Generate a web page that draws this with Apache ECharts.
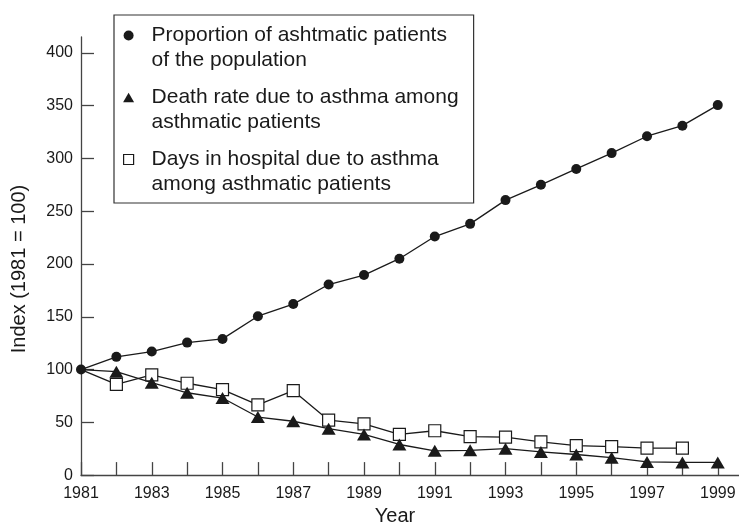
<!DOCTYPE html>
<html>
<head>
<meta charset="utf-8">
<script src="https://cdn.jsdelivr.net/npm/echarts@6/dist/echarts.min.js"></script>
<style>
html,body{margin:0;padding:0;background:#fff;}
#chart{width:739px;height:531px;}
</style>
</head>
<body>
<div id="chart"></div>
<script>
const years = [1981,1982,1983,1984,1985,1986,1987,1988,1989,1990,1991,1992,1993,1994,1995,1996,1997,1998,1999];
const proportionPatients = [100,112,117,125.5,129,150.5,162,180.5,189.5,205,226,238,260.5,275,290,305,321,331,350.5];
const deathRate = [100,98,87.5,78,73,55,51,44,38.5,29,23,23.5,25,22,19.5,16.5,12.5,12,12];
const hospitalYears = [1981,1982,1983,1984,1985,1986,1987,1988,1989,1990,1991,1992,1993,1994,1995,1996,1997,1998];
const hospitalDays = [100,86,95,87,81,66.5,80,52,48.5,38.5,42,36.5,36,31.5,28,27,25.5,25.5];
const xTickValues = [1981,1982,1983,1984,1985,1986,1987,1988,1989,1990,1991,1992,1993,1994,1995,1996,1997,1998,1999];
const xLabelValues = [1981,1983,1985,1987,1989,1991,1993,1995,1997,1999];
const yTickValues = [0,50,100,150,200,250,300,350,400];

const nameProp = 'Proportion of ashtmatic patients\nof the population';
const nameDeath = 'Death rate due to asthma among\nasthmatic patients';
const nameDays = 'Days in hospital due to asthma\namong asthmatic patients';

const INK = '#1a1a1a';
const AXIS = '#444';
const FONT = '"Liberation Sans", Arial, sans-serif';

// the shared 1981 base point is only marked by the circle
function pairs(xs, ys, hideFirst){
  return xs.map((x,i)=> (hideFirst && i === 0) ? {value:[x, ys[i]], symbol:'none'} : [x, ys[i]]);
}

// legend icons: shape drawn in top-left part of a taller box so it lines up with the first text line
const anchor = 'M0,0 M24,36 ';
const iconCircle = 'path://' + anchor + 'M11,5.5 A5,5,0,1,1,1,5.5 A5,5,0,1,1,11,5.5 Z';
const iconTri = 'path://' + anchor + 'M6,0.8 L11.5,10.2 L0.5,10.2 Z';
const iconSq = 'path://' + anchor + 'M1,0.5 L11,0.5 L11,10.5 L1,10.5 Z';

const chart = echarts.init(document.getElementById('chart'), null, {renderer:'canvas'});
chart.setOption({
  animation: false,
  backgroundColor: '#fff',
  textStyle: {fontFamily: FONT},
  grid: {left: 81, right: 0, top: 37, bottom: 50, containLabel: false},
  legend: {
    orient: 'vertical',
    left: 114, top: 15,
    padding: [8, 15, 6, 8],
    itemWidth: 24, itemHeight: 36,
    itemGap: 12,
    borderColor: '#333', borderWidth: 1.2,
    backgroundColor: '#fff',
    selectedMode: false,
    textStyle: {fontFamily: FONT, fontSize: 21, lineHeight: 25, color: INK},
    data: [
      {name: nameProp, icon: iconCircle, itemStyle: {color: INK, borderWidth: 0}},
      {name: nameDeath, icon: iconTri, itemStyle: {color: INK, borderWidth: 0}},
      {name: nameDays, icon: iconSq, itemStyle: {color: '#fff', borderColor: INK, borderWidth: 1.2}}
    ]
  },
  xAxis: {
    type: 'value',
    min: 1981, max: 1999.6,
    name: 'Year',
    nameLocation: 'middle',
    nameGap: 30,
    nameTextStyle: {fontFamily: FONT, fontSize: 20, color: INK, padding: [0, 30, 0, 0]},
    axisLine: {show: true, lineStyle: {color: AXIS, width: 1.3}},
    axisTick: {show: true, inside: true, length: 13, lineStyle: {color: AXIS, width: 1.3}, customValues: xTickValues},
    axisLabel: {fontFamily: FONT, fontSize: 16, color: INK, margin: 10, customValues: xLabelValues, formatter: v => String(v)},
    splitLine: {show: false}
  },
  yAxis: {
    type: 'value',
    min: 0, max: 415,
    name: 'Index (1981 = 100)',
    nameLocation: 'middle',
    nameGap: 52,
    nameRotate: 90,
    nameTextStyle: {fontFamily: FONT, fontSize: 20, color: INK, padding: [0, 26, 0, 0]},
    axisLine: {show: true, lineStyle: {color: AXIS, width: 1.3}},
    axisTick: {show: true, inside: true, length: 13, lineStyle: {color: AXIS, width: 1.3}, customValues: yTickValues},
    axisLabel: {fontFamily: FONT, fontSize: 16, color: INK, margin: 8, customValues: yTickValues},
    splitLine: {show: false}
  },
  series: [
    {
      name: nameDays, type: 'line', data: pairs(hospitalYears, hospitalDays, true),
      symbol: 'rect', symbolSize: 12, clip: false,
      lineStyle: {color: INK, width: 1.3},
      itemStyle: {color: '#fff', borderColor: INK, borderWidth: 1.2},
      emphasis: {disabled: true}
    },
    {
      name: nameDeath, type: 'line', data: pairs(years, deathRate, true),
      symbol: 'triangle', symbolSize: [14, 12], clip: false,
      lineStyle: {color: INK, width: 1.3},
      itemStyle: {color: INK, borderWidth: 0},
      emphasis: {disabled: true}
    },
    {
      name: nameProp, type: 'line', data: pairs(years, proportionPatients, false),
      symbol: 'circle', symbolSize: 10, clip: false,
      lineStyle: {color: INK, width: 1.3},
      itemStyle: {color: INK, borderWidth: 0},
      emphasis: {disabled: true}
    }
  ]
});
</script>
</body>
</html>
